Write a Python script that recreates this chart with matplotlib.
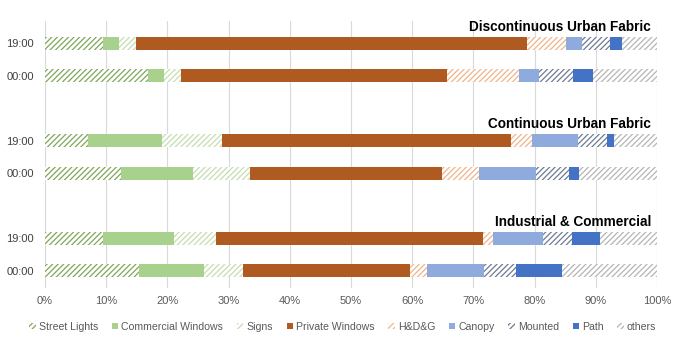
import numpy as np
import matplotlib.pyplot as plt
from matplotlib.patches import Patch

plt.rcParams['font.family'] = ['Liberation Sans', 'DejaVu Sans']
plt.rcParams['hatch.linewidth'] = 0.9

CATEGORIES = ["Street Lights", "Commercial Windows", "Signs", "Private Windows",
              "H&D&G", "Canopy", "Mounted", "Path", "others"]
GROUPS = ["Discontinuous Urban Fabric", "Continuous Urban Fabric", "Industrial & Commercial"]
TIMES = ["19:00", "00:00"]

# cumulative right edges (%) of each category, per row
disc_19 = [9.4, 12.1, 14.8, 78.7, 85.1, 87.8, 92.3, 94.3, 100]
disc_00 = [16.8, 19.5, 22.2, 65.7, 77.5, 80.7, 86.3, 89.5, 100]
cont_19 = [7.0, 19.1, 28.9, 76.1, 79.5, 87.1, 91.8, 92.9, 100]
cont_00 = [12.4, 24.1, 33.5, 64.8, 70.9, 80.2, 85.7, 87.2, 100]
ind_19 = [9.4, 21.0, 28.0, 71.5, 73.2, 81.4, 86.1, 90.7, 100]
ind_00 = [15.4, 26.0, 32.4, 59.6, 62.4, 71.8, 76.9, 84.5, 100]

rows = [disc_19, disc_00, cont_19, cont_00, ind_19, ind_00]
ypos = [0, 1, 3, 4, 6, 7]

# (color, hatched)
styles = [("#7FA65A", True), ("#A9D18E", False), ("#C5DDB0", True), ("#AE5A21", False),
          ("#F0B48A", True), ("#8FAADC", False), ("#6E7C92", True), ("#4472C4", False),
          ("#B5B5B5", True)]

fig = plt.figure(figsize=(6.76, 3.41), dpi=100)
ax = fig.add_axes([0.0666, 0.155, 0.9053, 0.783])

for y, edges in zip(ypos, rows):
    left = 0
    for right, (col, hatched) in zip(edges, styles):
        w = right - left
        if hatched:
            ax.barh(y, w, left=left, height=0.4, color="white", edgecolor=col,
                    hatch="//////", linewidth=0)
        else:
            ax.barh(y, w, left=left, height=0.4, color=col, linewidth=0)
        left = right

for i, g in enumerate(GROUPS):
    ax.text(99, 3 * i - 0.5, g, ha="right", va="center", fontsize=9.8,
            fontweight="bold", color="black")

ax.set_xlim(0, 100)
ax.set_ylim(7.54, -0.68)
ax.set_xticks(np.arange(0, 101, 10))
ax.set_xticklabels([f"{v}%" for v in range(0, 101, 10)], fontsize=8, color="#595959")
ax.set_yticks(ypos)
ax.set_yticklabels(TIMES * 3, fontsize=8, color="#404040")
ax.tick_params(length=0, pad=8)
ax.tick_params(axis="x", pad=6)
ax.grid(axis="x", color="#D9D9D9", linewidth=0.8)
ax.set_axisbelow(True)
for s in ax.spines.values():
    s.set_visible(False)

handles = []
for name, (col, hatched) in zip(CATEGORIES, styles):
    if hatched:
        handles.append(Patch(facecolor="white", edgecolor=col, hatch="//////", linewidth=0, label=name))
    else:
        handles.append(Patch(facecolor=col, linewidth=0, label=name))
fig.legend(handles=handles, loc="center", bbox_to_anchor=(0.507, 0.042), ncol=9,
           frameon=False, fontsize=7.6, handlelength=0.6, handleheight=0.6,
           handletextpad=0.3, columnspacing=1.3, labelcolor="#595959")

fig.savefig("out.png", dpi=100)
